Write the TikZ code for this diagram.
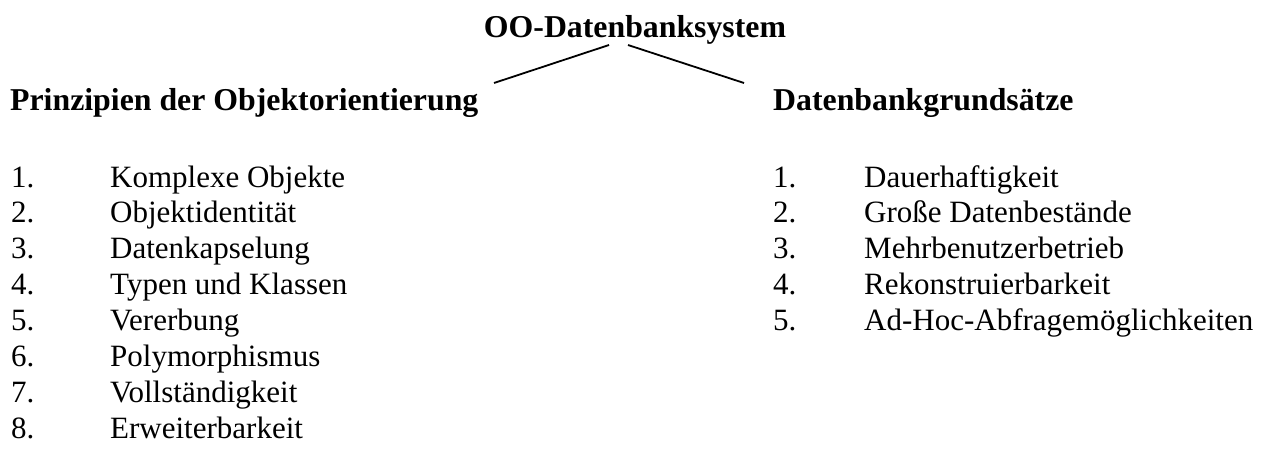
\documentclass[tikz,border=0pt]{standalone}
\usepackage{fontspec}
\setmainfont{Liberation Serif}
\begin{document}
\begin{tikzpicture}[x=1pt,y=-1pt,
  heading/.style={anchor=base west,inner sep=0pt,font=\fontsize{31.8}{38}\selectfont\bfseries},
  title/.style={anchor=base,inner sep=0pt,font=\fontsize{31.8}{38}\selectfont\bfseries},
  entry/.style={anchor=base west,inner sep=0pt,font=\fontsize{31}{37}\selectfont},
  branch/.style={line width=1.8pt}]
\useasboundingbox (0,0) rectangle (1271,453);

% root of the tree
\node[title] (root) at (635,37) {OO-Datenbanksystem};
\coordinate (rootL) at (609,45);
\coordinate (rootR) at (628,45);
\coordinate (leafL) at (494,83);
\coordinate (leafR) at (744,83);
\draw[branch] (rootL) -- (leafL);
\draw[branch] (rootR) -- (leafR);

% two branches
\node[heading] (oo) at (10,110) {Prinzipien der Objektorientierung};
\node[heading] (db) at (773,110) {Datenbankgrundsätze};

% left list
\foreach \i/\t in {1/Komplexe Objekte,2/Objektidentität,3/Datenkapselung,4/Typen und Klassen,
                   5/Vererbung,6/Polymorphismus,7/Vollständigkeit,8/Erweiterbarkeit}{
  \node[entry] (ln\i) at (11,{187+35.9*(\i-1)}) {\i.};
  \node[entry] (lt\i) at (110,{187+35.9*(\i-1)}) {\t};
}

% right list
\foreach \i/\t in {1/Dauerhaftigkeit,2/Große Datenbestände,3/Mehrbenutzerbetrieb,
                   4/Rekonstruierbarkeit,5/Ad-Hoc-Abfragemöglichkeiten}{
  \node[entry] (rn\i) at (773,{187+35.9*(\i-1)}) {\i.};
  \node[entry] (rt\i) at (864,{187+35.9*(\i-1)}) {\t};
}
\end{tikzpicture}
\end{document}
